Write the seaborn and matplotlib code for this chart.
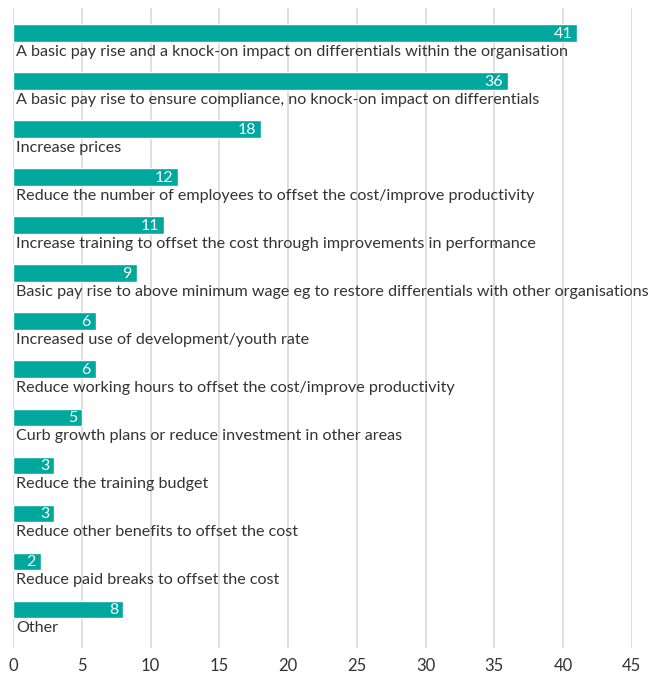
import matplotlib
matplotlib.use("Agg")
import matplotlib.pyplot as plt
import seaborn as sns
import pandas as pd

categories = [
    "A basic pay rise and a knock-on impact on differentials within the organisation",
    "A basic pay rise to ensure compliance, no knock-on impact on differentials",
    "Increase prices",
    "Reduce the number of employees to offset the cost/improve productivity",
    "Increase training to offset the cost through improvements in performance",
    "Basic pay rise to above minimum wage eg to restore differentials with other organisations",
    "Increased use of development/youth rate",
    "Reduce working hours to offset the cost/improve productivity",
    "Curb growth plans or reduce investment in other areas",
    "Reduce the training budget",
    "Reduce other benefits to offset the cost",
    "Reduce paid breaks to offset the cost",
    "Other",
]
values = [41, 36, 18, 12, 11, 9, 6, 6, 5, 3, 3, 2, 8]
x_ticks = [0, 5, 10, 15, 20, 25, 30, 35, 40, 45]

sns.set_theme(style="white")
plt.rcParams["font.family"] = ["Lato", "DejaVu Sans"]

df = pd.DataFrame({"response": categories, "pct": values})

fig = plt.figure(figsize=(6.52, 6.73), dpi=100)
ax = fig.add_axes([0.02, 0.037, 0.949, 0.951])

teal = "#00A79D"
sns.barplot(data=df, x="pct", y="response", orient="h", color=teal,
            width=0.36, saturation=1, ax=ax, zorder=3)

ax.set_xlim(0, 45)
ax.set_ylim(12.81, -0.52)
ax.set_xticks(x_ticks)
ax.set_xticklabels([str(t) for t in x_ticks], fontsize=12, color="#333333")
ax.tick_params(axis="x", length=0, pad=7)
ax.set_yticks([])
ax.set_xlabel("")
ax.set_ylabel("")
ax.grid(axis="x", color="#d6d6d6", linewidth=1.1, zorder=0)
for s in ax.spines.values():
    s.set_visible(False)

for i, (cat, v) in enumerate(zip(categories, values)):
    ax.text(0.2, i + 0.25, cat, ha="left", va="top", fontsize=11.6,
            color="#333333", zorder=4)
    ax.text(v - 0.35, i + 0.02, str(v), ha="right", va="center",
            fontsize=11.5, color="white", zorder=4)

fig.savefig("out.png", dpi=100)
